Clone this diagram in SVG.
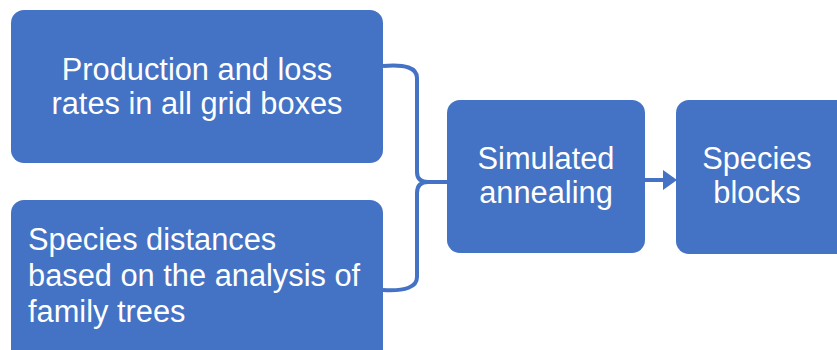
<svg xmlns="http://www.w3.org/2000/svg" width="837" height="350" viewBox="0 0 837 350">
<style>
.box{fill:#4472C4;}
.t{font-family:"Liberation Sans",Arial,sans-serif;font-size:30.8px;fill:#fff;}
.c{text-anchor:middle;}
.con{fill:none;stroke:#4472C4;stroke-width:4;}
</style>
<rect width="837" height="350" fill="#fff"/>
<g id="n1"><rect class="box" x="11" y="10" width="372" height="153" rx="13"/>
<text class="t c" x="197" y="80">Production and loss</text>
<text class="t c" x="197" y="114">rates in all grid boxes</text></g>
<g id="n2"><rect class="box" x="11" y="200" width="372" height="165" rx="13"/>
<text class="t" x="28" y="250">Species distances</text>
<text class="t" x="28" y="286">based on the analysis of</text>
<text class="t" x="28" y="322">family trees</text></g>
<g id="n3"><rect class="box" x="447" y="100" width="198" height="153" rx="13"/>
<text class="t c" x="546" y="169">Simulated</text>
<text class="t c" x="546" y="203">annealing</text></g>
<g id="n4"><rect class="box" x="676" y="100" width="175" height="154" rx="13"/>
<text class="t c" x="757" y="169">Species</text>
<text class="t c" x="757" y="203">blocks</text></g>
<g id="connectors">
<path class="con" d="M383,66 Q417,63 417,78 V172 Q417,182 428,182 H447 M428,182 Q417,182 417,193 V277 Q417,292 383,290"/>
<path class="con" d="M645,180 H665"/>
<polygon points="663,170 677,180 663,190" fill="#4472C4"/>
</g>
</svg>
